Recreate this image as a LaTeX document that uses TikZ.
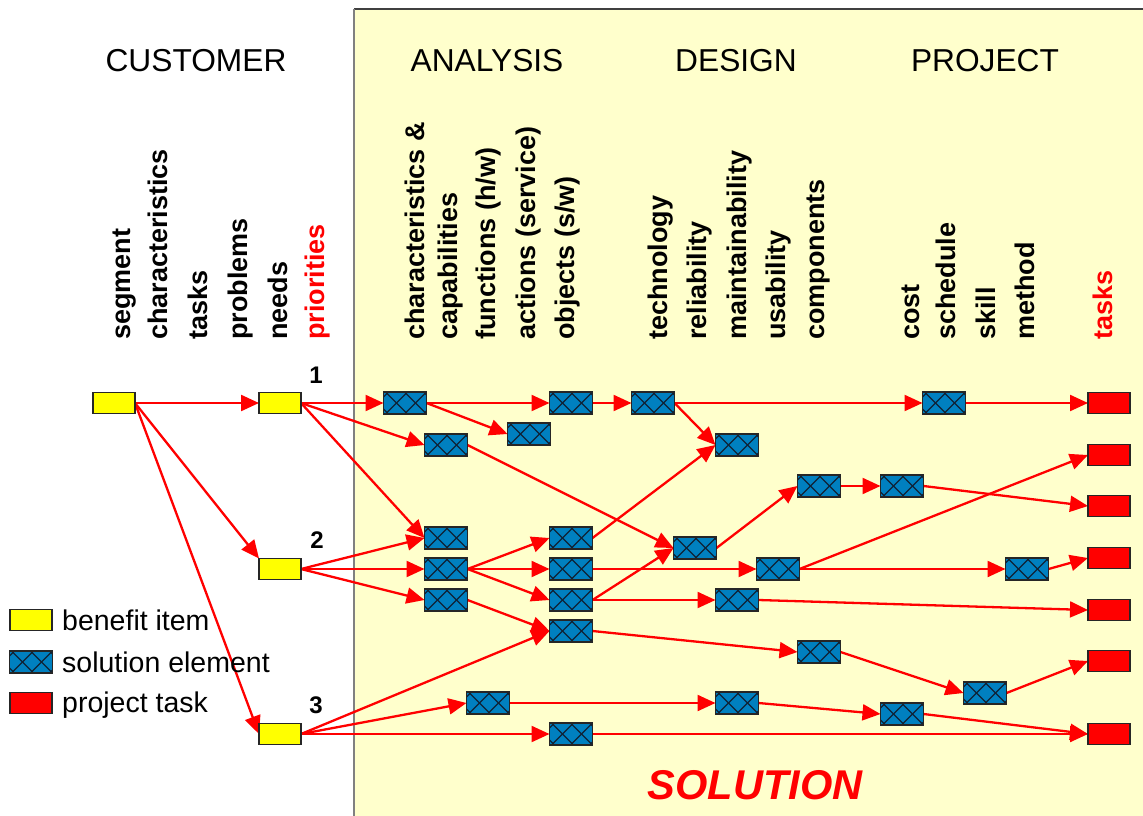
\documentclass[tikz,border=0pt]{standalone}
\usepackage{fontspec}
\setmainfont{Liberation Sans}
\usetikzlibrary{arrows.meta,calc}

\pgfdeclarelayer{bg}
\pgfdeclarelayer{wires}
\pgfsetlayers{bg,wires,main}

\definecolor{panelfill}{RGB}{255,255,204}
\definecolor{panelrule}{RGB}{128,128,128}
\definecolor{paneltop}{RGB}{64,64,64}
\definecolor{elemblue}{RGB}{0,128,192}
\definecolor{hatchdark}{RGB}{15,35,55}
\definecolor{benefit}{RGB}{255,255,0}
\definecolor{taskred}{RGB}{255,0,0}

\tikzset{
  box/.style={draw=black!85, line width=1.3pt, minimum width=42pt,
    minimum height=21pt, inner sep=0pt, outer sep=0pt},
  benefitbox/.style={box, fill=benefit},
  taskbox/.style={box, fill=taskred},
  hatchline/.style={draw=hatchdark, line width=1.1pt},
  elembox/.style={box, fill=elemblue, minimum width=43pt, minimum height=22pt,
    path picture={
      \foreach \c in {-6,13,32,51} {
        \draw[hatchline] ($(path picture bounding box.north west)+(\c-12,-1)$) -- ++(24,24);
        \draw[hatchline] ($(path picture bounding box.north west)+(\c+12,-1)$) -- ++(-24,24);
      }
    }},
  link/.style={draw=taskred, line width=2.3pt, -{Triangle[length=18pt,width=16pt]}},
  colhead/.style={font=\fontsize{31.7}{36}\selectfont, anchor=base, inner sep=0pt},
  vlabel/.style={font=\bfseries\fontsize{27}{32}\selectfont, rotate=90,
    anchor=base west, inner sep=0pt},
  rank/.style={font=\bfseries\fontsize{24}{27}\selectfont, inner sep=0pt},
  legendtext/.style={font=\fontsize{28.5}{32}\selectfont, anchor=base west, inner sep=0pt},
}

\begin{document}
\begin{tikzpicture}[x=1pt, y=-1pt]
  \useasboundingbox (0,0) rectangle (1143,816);

  % solution panel
  \begin{pgfonlayer}{bg}
    \fill[panelfill] (354,9) rectangle (1143,816);
    \draw[paneltop, line width=1.5pt] (354,9) -- (1143,9);
    \draw[panelrule, line width=2pt] (354,816) -- (354,9);
  \end{pgfonlayer}

  % column headings
  \node[colhead] (hcust) at (196,72) {CUSTOMER};
  \node[colhead] (hana)  at (487,72) {ANALYSIS};
  \node[colhead] (hdes)  at (736,72) {DESIGN};
  \node[colhead] (hproj) at (985,72) {PROJECT};

  % vertical category labels
  \node[vlabel] (lseg)  at (130,340) {segment};
  \node[vlabel] (lchar) at (167,340) {characteristics};
  \node[vlabel] (ltask) at (207,340) {tasks};
  \node[vlabel] (lprob) at (247,340) {problems};
  \node[vlabel] (lneed) at (287,340) {needs};
  \node[vlabel, text=taskred] (lprio) at (324,340) {priorities};

  \node[vlabel] (lcc)   at (424,340) {characteristics \&};
  \node[vlabel] (lcap)  at (457,340) {capabilities};
  \node[vlabel] (lfun)  at (495,340) {functions (h/w)};
  \node[vlabel] (lact)  at (535,340) {actions (service)};
  \node[vlabel] (lobj)  at (574,340) {objects (s/w)};

  \node[vlabel] (ltech) at (667,340) {technology};
  \node[vlabel] (lrel)  at (706,340) {reliability};
  \node[vlabel] (lmain) at (746,340) {maintainability};
  \node[vlabel] (lusa)  at (785,340) {usability};
  \node[vlabel] (lcomp) at (824,340) {components};

  \node[vlabel] (lcost) at (919,340) {cost};
  \node[vlabel] (lsched) at (955,340) {schedule};
  \node[vlabel] (lskill) at (995,340) {skill};
  \node[vlabel] (lmeth) at (1034,340) {method};
  \node[vlabel, text=taskred] (ltasks) at (1112,340) {tasks};

  % benefit items
  \node[benefitbox] (b0)  at (114,403) {};
  \node[benefitbox] (pr1) at (280,403) {};
  \node[benefitbox] (pr2) at (280,569) {};
  \node[benefitbox] (pr3) at (280,734) {};
  \node[rank] (n1) at (316,375) {1};
  \node[rank] (n2) at (317,540) {2};
  \node[rank] (n3) at (316,705) {3};

  % solution elements
  \node[elembox] (e1)  at (405,403) {};
  \node[elembox] (e2)  at (446,445) {};
  \node[elembox] (e3)  at (529,434) {};
  \node[elembox] (e4)  at (571,403) {};
  \node[elembox] (e5)  at (653,403) {};
  \node[elembox] (e6)  at (737,445) {};
  \node[elembox] (e7)  at (944,403) {};
  \node[elembox] (e8)  at (446,538) {};
  \node[elembox] (e9)  at (446,569) {};
  \node[elembox] (e10) at (446,600) {};
  \node[elembox] (e11) at (571,538) {};
  \node[elembox] (e12) at (571,569) {};
  \node[elembox] (e13) at (571,600) {};
  \node[elembox] (e14) at (571,631) {};
  \node[elembox] (e15) at (695,548) {};
  \node[elembox] (e16) at (778,569) {};
  \node[elembox] (e17) at (819,486) {};
  \node[elembox] (e18) at (902,486) {};
  \node[elembox] (e19) at (1027,569) {};
  \node[elembox] (e20) at (737,600) {};
  \node[elembox] (e21) at (819,652) {};
  \node[elembox] (e22) at (985,693) {};
  \node[elembox] (e23) at (488,703) {};
  \node[elembox] (e24) at (737,703) {};
  \node[elembox] (e25) at (902,714) {};
  \node[elembox] (e26) at (571,734) {};

  % project tasks
  \node[taskbox] (t1) at (1109,403) {};
  \node[taskbox] (t2) at (1109,455) {};
  \node[taskbox] (t3) at (1109,506) {};
  \node[taskbox] (t4) at (1109,558) {};
  \node[taskbox] (t5) at (1109,610) {};
  \node[taskbox] (t6) at (1109,661) {};
  \node[taskbox] (t7) at (1109,734) {};

  % legend
  \node[benefitbox] (kb) at (31,620) {};
  \node[elembox]    (ke) at (31,662) {};
  \node[taskbox]    (kt) at (31,703) {};
  \node[legendtext] (kbt) at (62,630) {benefit item};
  \node[legendtext] (ket) at (62,672) {solution element};
  \node[legendtext] (ktt) at (62,712) {project task};

  \node[font=\bfseries\itshape\fontsize{41.6}{46}\selectfont, text=taskred,
        anchor=base, inner sep=0pt] (sol) at (755,799) {SOLUTION};

  % traceability links
  \begin{pgfonlayer}{wires}
    \draw[link] (b0.east) -- (pr1.west);
    \draw[link] (b0.east) -- (pr2.north west);
    \draw[link] (b0.east) -- (pr3.west);

    \draw[link] (pr1.east) -- (e1.west);
    \draw[link] (pr1.east) -- (e2.west);
    \draw[link] (pr1.east) -- (e8.west);
    \draw[link] (pr2.east) -- (e8.west);
    \draw[link] (pr2.east) -- (e9.west);
    \draw[link] (pr2.east) -- (e10.west);
    \draw[link] (pr3.east) -- (e14.west);
    \draw[link] (pr3.east) -- (e23.west);
    \draw[link] (pr3.east) -- (e26.west);

    \draw[link] (e1.east) -- (e4.west);
    \draw[link] (e1.east) -- (e3.west);
    \draw[link] (e4.east) -- (e5.west);
    \draw[link] (e5.east) -- (e7.west);
    \draw[link] (e5.east) -- (e6.west);
    \draw[link] (e7.east) -- (t1.west);
    \draw[link] (e2.east) -- (e15.west);
    \draw[link] (e9.east) -- (e11.west);
    \draw[link] (e9.east) -- (e12.west);
    \draw[link] (e9.east) -- (e13.west);
    \draw[link] (e10.east) -- (e14.west);
    \draw[link] (e11.east) -- (e6.west);
    \draw[link] (e12.east) -- (e16.west);
    \draw[link] (e13.east) -- (e15.west);
    \draw[link] (e13.east) -- (e20.west);
    \draw[link] (e15.east) -- (e17.west);
    \draw[link] (e17.east) -- (e18.west);
    \draw[link] (e18.east) -- (t3.west);
    \draw[link] (e16.east) -- (t2.west);
    \draw[link] (e16.east) -- (e19.west);
    \draw[link] (e19.east) -- (t4.west);
    \draw[link] (e20.east) -- (t5.west);
    \draw[link] (e14.east) -- (e21.west);
    \draw[link] (e21.east) -- (e22.west);
    \draw[link] (e22.east) -- (t6.west);
    \draw[link] (e23.east) -- (e24.west);
    \draw[link] (e24.east) -- (e25.west);
    \draw[link] (e25.east) -- (t7.west);
    \draw[link] (e26.east) -- (t7.west);
  \end{pgfonlayer}
\end{tikzpicture}
\end{document}
